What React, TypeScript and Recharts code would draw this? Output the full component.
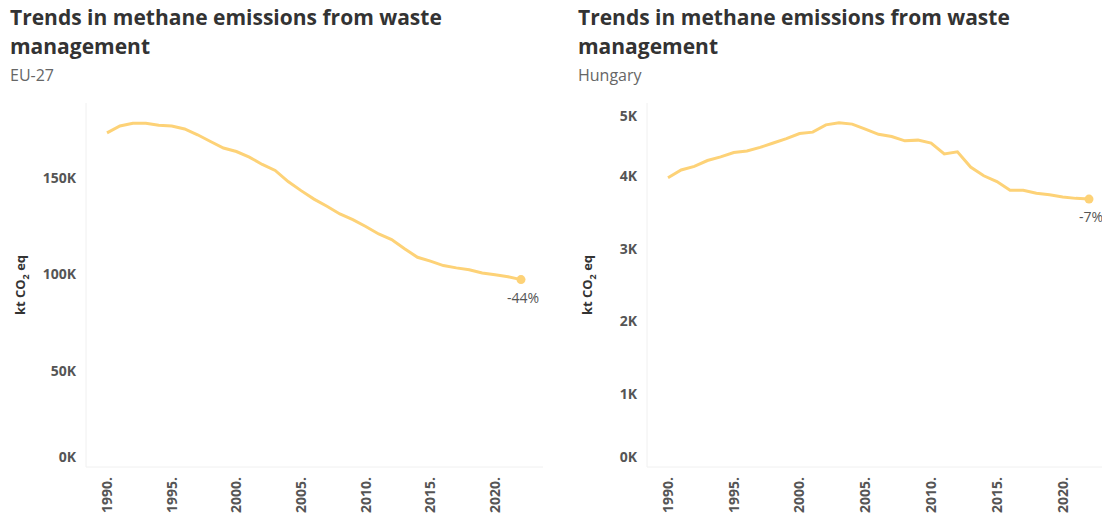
import { LineChart, Line, XAxis, YAxis, Label } from "recharts";

const years = [
  1990, 1991, 1992, 1993, 1994, 1995, 1996, 1997, 1998, 1999, 2000, 2001, 2002, 2003, 2004, 2005, 2006,
  2007, 2008, 2009, 2010, 2011, 2012, 2013, 2014, 2015, 2016, 2017, 2018, 2019, 2020, 2021, 2022,
];

const euValues = [
  173500, 177100, 178500, 178500, 177500, 177000, 175500, 172500, 169000, 165600, 163800, 160900, 157100,
  154000, 148200, 143500, 139100, 135400, 131400, 128400, 124900, 121000, 118100, 113300, 108900, 106900,
  104600, 103400, 102400, 100700, 99800, 98800, 97300,
];

const huValues = [
  3974, 4080, 4130, 4210, 4260, 4320, 4340, 4390, 4450, 4510, 4580, 4600, 4700, 4730, 4710, 4640, 4570,
  4540, 4480, 4490, 4450, 4300, 4330, 4120, 4000, 3920, 3800, 3800, 3760, 3740, 3710, 3690, 3680,
];

const yearTicks = [1990, 1995, 2000, 2005, 2010, 2015, 2020];
const euTicks = [0, 50000, 100000, 150000];
const huTicks = [0, 1000, 2000, 3000, 4000, 5000];

const TITLE = "Trends in methane emissions from waste management";
const LINE_COLOR = "#FDD277";
const FONT = "'Open Sans', 'Noto Sans', sans-serif";

function YTick(props: any) {
  const { x, y, payload, max } = props;
  let shift = 0;
  if (payload.value === 0) shift = -10;
  else if (payload.value === max) shift = 13;
  return (
    <text x={x} y={y + shift} dy="0.35em" textAnchor="end" fill="#555" fontSize={14} fontWeight={700} fontFamily={FONT}>
      {`${payload.value / 1000}K`}
    </text>
  );
}

function XTick(props: any) {
  const { x, y, payload } = props;
  return (
    <text
      transform={`translate(${x},${y + 2}) rotate(-90)`}
      dy="0.35em"
      textAnchor="end"
      fill="#555"
      fontSize={14}
      fontWeight={700}
      fontFamily={FONT}
    >
      {`${payload.value}.`}
    </text>
  );
}

function AxisTitle(props: any) {
  const { viewBox, offsetX } = props;
  const cx = viewBox.x + offsetX;
  const cy = viewBox.y + viewBox.height / 2;
  return (
    <text
      transform={`translate(${cx},${cy}) rotate(-90)`}
      dy="0.35em"
      textAnchor="middle"
      fill="#333"
      fontSize={13}
      fontWeight={700}
      fontFamily={FONT}
    >
      kt CO
      <tspan fontSize={9} dy={4}>2</tspan>
      <tspan dy={-4}> eq</tspan>
    </text>
  );
}

function Panel({ subtitle, values, ticks, max, left, width, yWidth, marginRight, padRight, labelX }: any) {
  const data = years.map((year, i) => ({ year, value: values[i] }));
  const change = Math.round((values[values.length - 1] / values[0] - 1) * 100);
  const lastIndex = data.length - 1;
  return (
    <div style={{ position: "absolute", left, top: 0, width, height: 523 }}>
      <div style={{ position: "absolute", left: 10, top: 3, width: 530, fontFamily: FONT }}>
        <div style={{ fontSize: 21, fontWeight: 700, color: "#333", lineHeight: "29px" }}>{TITLE}</div>
        <div style={{ fontSize: 16, color: "#666", lineHeight: "26px", marginTop: 1 }}>{subtitle}</div>
      </div>
      <LineChart width={width} height={523} data={data} margin={{ top: 103, right: marginRight, bottom: 0, left: 0 }}>
        <XAxis
          dataKey="year"
          type="number"
          domain={[1990, 2022]}
          ticks={yearTicks}
          padding={{ left: 21, right: padRight }}
          height={56}
          axisLine={{ stroke: "#f0f0f0" }}
          tickLine={false}
          tickSize={0}
          tickMargin={8}
          tick={<XTick />}
          interval={0}
        />
        <YAxis
          domain={[0, max]}
          ticks={ticks}
          width={yWidth}
          axisLine={{ stroke: "#f0f0f0" }}
          tickLine={false}
          tickSize={0}
          tickMargin={10}
          tick={<YTick max={max} />}
          interval={0}
        >
          <Label content={<AxisTitle offsetX={labelX} />} />
        </YAxis>
        <Line
          type="linear"
          dataKey="value"
          stroke={LINE_COLOR}
          strokeWidth={3}
          isAnimationActive={false}
          dot={(p: any) =>
            p.index === lastIndex ? (
              <g key="end">
                <circle cx={p.cx} cy={p.cy} r={4.5} fill={LINE_COLOR} />
                <text x={p.cx + 2} y={p.cy + 18} dy="0.35em" textAnchor="middle" fill="#555" fontSize={14} fontFamily={FONT}>
                  {`${change}%`}
                </text>
              </g>
            ) : (
              <g key={p.index} />
            )
          }
        />
      </LineChart>
    </div>
  );
}

export default function App() {
  return (
    <div style={{ position: "absolute", left: 0, top: 0, width: 1102, height: 523, overflow: "hidden", background: "#fff" }}>
      <Panel subtitle="EU-27" values={euValues} ticks={euTicks} max={189000} left={0} width={560} yWidth={86} marginRight={17} padRight={22} labelX={20} />
      <Panel subtitle="Hungary" values={huValues} ticks={huTicks} max={5000} left={568} width={552} yWidth={79} marginRight={10} padRight={21} labelX={19} />
    </div>
  );
}
